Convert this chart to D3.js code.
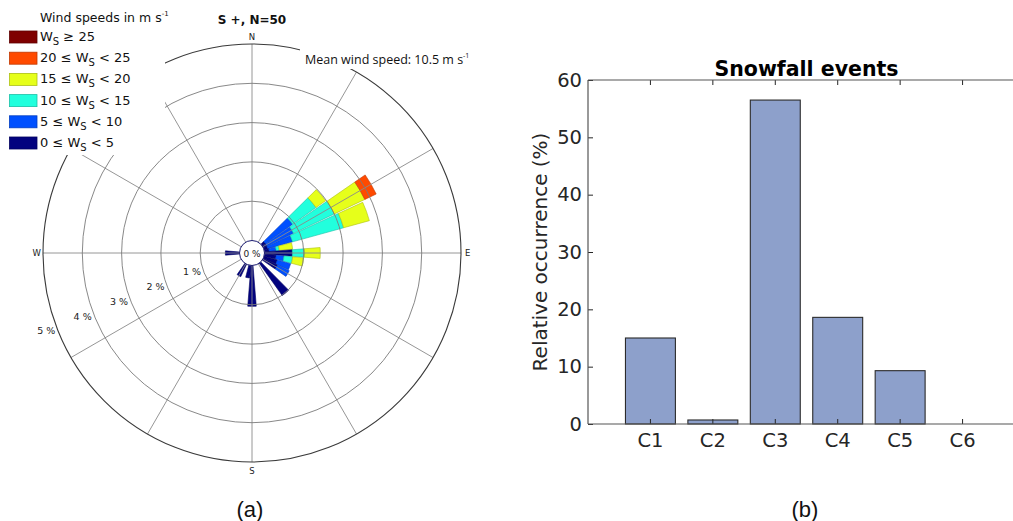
<!DOCTYPE html>
<html><head><meta charset="utf-8">
<script src="https://cdn.jsdelivr.net/npm/d3@7"></script>
<style>body{margin:0;background:#fff} svg{display:block}</style>
</head><body>
<svg id="chart" width="1013" height="521"></svg>
<script>
// ---------- Wind rose data (percent per direction bin, per speed class) ----------
const directions = [50, 60, 70, 80, 90, 100, 110, 120, 140, 180, 190, 210, 270];
const pct0to5   = [0.10, 0.10, 0.10, 0.12, 0.71, 0.30, 0.35, 0.40, 1.01, 1.04, 0.32, 0.35, 0.36];
const pct5to10  = [0.85, 0.75, 0.65, 0.18, 0.00, 0.20, 0.35, 0.33, 0, 0, 0, 0, 0];
const pct10to15 = [0.73, 1.15, 1.35, 0.08, 0.31, 0.22, 0, 0, 0, 0, 0, 0, 0];
const pct15to20 = [0.30, 0.86, 0.68, 0.34, 0.40, 0.28, 0, 0, 0, 0, 0, 0, 0];
const pct20to25 = [0, 0.32, 0, 0, 0, 0, 0, 0, 0, 0, 0, 0, 0];
const pct25plus = [0, 0, 0, 0, 0, 0, 0, 0, 0, 0, 0, 0, 0];
const speedColors = ["#02027f", "#0050ff", "#22ffdd", "#e6ff1a", "#ff4a00", "#7f0000"];
const legendPrefix = ["W", "20 \u2264 W", "15 \u2264 W", "10 \u2264 W", "5 \u2264 W", "0 \u2264 W"];
const legendSuffix = [" \u2265 25", " < 25", " < 20", " < 15", " < 10", " < 5"];
const legendColors = ["#7f0000", "#ff4a00", "#e6ff1a", "#22ffdd", "#0050ff", "#02027f"];
const ringLevels = [1, 2, 3, 4, 5];
const compassLabels = ["N", "E", "S", "W"];

// ---------- Bar chart data ----------
const categories = ["C1", "C2", "C3", "C4", "C5", "C6"];
const occurrence = [15.0, 0.7, 56.5, 18.6, 9.3, 0];
const yTicks = [0, 10, 20, 30, 40, 50, 60];

(function () {
const svg = d3.select("#chart");
const rad = Math.PI / 180;

// ================= Wind rose =================
const cx = 252, cy = 253;
const rose = svg.append("g").attr("transform", `translate(${cx},${cy})`);
const rScale = d3.scaleLinear().domain([0, 5]).range([12.5, 209]);
const halfW = 4.6;
const classes = [pct0to5, pct5to10, pct10to15, pct15to20, pct20to25, pct25plus];
const arc = d3.arc();

directions.forEach((d, i) => {
  let cum = 0;
  classes.forEach((cls, j) => {
    const v = cls[i];
    if (v <= 0) return;
    const r0 = rScale(cum);
    cum += v;
    const r1 = rScale(cum);
    rose.append("path")
      .attr("d", arc({innerRadius: r0, outerRadius: r1,
        startAngle: (d - halfW) * rad, endAngle: (d + halfW) * rad}))
      .attr("fill", speedColors[j])
      .attr("stroke", d3.color(speedColors[j]).darker(0.8))
      .attr("stroke-width", 0.6);
  });
});

// grid (on top)
const spokes = d3.range(0, 360, 30);
rose.selectAll("line.spoke").data(spokes).enter().append("line")
  .attr("x1", a => rScale(0) * Math.sin(a * rad))
  .attr("y1", a => -rScale(0) * Math.cos(a * rad))
  .attr("x2", a => rScale(5) * Math.sin(a * rad))
  .attr("y2", a => -rScale(5) * Math.cos(a * rad))
  .attr("stroke", "#8a8a8a").attr("stroke-width", 0.9);
rose.selectAll("circle.ring").data(ringLevels).enter().append("circle")
  .attr("r", p => rScale(p)).attr("fill", "none")
  .attr("stroke", p => p === 5 ? "#3a3a3a" : "#7a7a7a")
  .attr("stroke-width", p => p === 5 ? 1.1 : 0.9);

// center circle
rose.append("circle").attr("r", 12.5).attr("fill", "#fff")
  .attr("stroke", "#1a1a70").attr("stroke-width", 1);
rose.append("text").attr("x", 0).attr("y", 3.5).attr("text-anchor", "middle")
  .attr("font-family", "DejaVu Sans").attr("font-size", 9).attr("fill", "#222").text("0 %");

// ring labels
const labAng = 248 * rad;
rose.selectAll("text.ring").data(ringLevels).enter().append("text")
  .attr("x", p => rScale(p) * Math.sin(labAng) - 3)
  .attr("y", p => -rScale(p) * Math.cos(labAng) + 3)
  .attr("text-anchor", "end")
  .attr("font-family", "DejaVu Sans").attr("font-size", 9.5).attr("fill", "#222")
  .text(p => p + " %");

// compass labels
const compassPos = [
  {x: 0, y: -rScale(5) - 4, anchor: "middle"},
  {x: rScale(5) + 4, y: 3, anchor: "start"},
  {x: 0, y: rScale(5) + 12, anchor: "middle"},
  {x: -rScale(5) - 2, y: 3, anchor: "end"}
];
compassLabels.forEach((t, i) => {
  rose.append("text").attr("x", compassPos[i].x).attr("y", compassPos[i].y)
    .attr("text-anchor", compassPos[i].anchor)
    .attr("font-family", "DejaVu Sans").attr("font-size", 8.5).attr("fill", "#222").text(t);
});

// title
svg.append("text").attr("x", 252).attr("y", 24).attr("text-anchor", "middle")
  .attr("font-family", "DejaVu Sans").attr("font-weight", "bold").attr("font-size", 12)
  .attr("fill", "#111").text("S +, N=50");

// mean wind speed box
svg.append("rect").attr("x", 300).attr("y", 46).attr("width", 192).attr("height", 23).attr("fill", "#fff");
const mw = svg.append("text").attr("x", 305).attr("y", 64)
  .attr("font-family", "Open Sans").attr("font-size", 12.5).attr("fill", "#111");
mw.append("tspan").text("Mean wind speed: 10.5 m s");
mw.append("tspan").attr("font-size", 7).attr("dy", -6).text("-1");

// legend
svg.append("rect").attr("x", 0).attr("y", 0).attr("width", 165).attr("height", 155).attr("fill", "#fff");
const lt = svg.append("text").attr("x", 40).attr("y", 22)
  .attr("font-family", "DejaVu Sans").attr("font-size", 12.5).attr("fill", "#111");
lt.append("tspan").text("Wind speeds in m s");
lt.append("tspan").attr("font-size", 7).attr("dy", -6).text("-1");
legendPrefix.forEach((pre, i) => {
  const yc = 37 + 21.2 * i;
  svg.append("rect").attr("x", 9.5).attr("y", yc - 6).attr("width", 27.5).attr("height", 12)
    .attr("fill", legendColors[i]).attr("stroke", d3.color(legendColors[i]).darker(0.8))
    .attr("stroke-width", 0.8);
  const t = svg.append("text").attr("x", 40).attr("y", yc + 4)
    .attr("font-family", "DejaVu Sans").attr("font-size", 13).attr("fill", "#111");
  t.append("tspan").text(pre);
  t.append("tspan").attr("font-size", 10).attr("dy", 4).text("S");
  t.append("tspan").attr("dy", -4).text(legendSuffix[i]);
});

// (a)
svg.append("text").attr("x", 250).attr("y", 517).attr("text-anchor", "middle")
  .attr("font-family", "Liberation Sans").attr("font-size", 22).attr("fill", "#111").text("(a)");

// ================= Bar chart =================
const pLeft = 588, pRight = 1025, pTop = 80, pBottom = 424;
const step = (pRight - pLeft) / 7;
const x = d3.scaleBand().domain(categories)
  .range([pLeft + step * 0.5, pLeft + step * 6.5]).paddingInner(0.2).paddingOuter(0.1);
const y = d3.scaleLinear().domain([0, 60]).range([pBottom, pTop]);
const bc = svg.append("g");

bc.selectAll("rect.bar").data(categories.filter((c, i) => occurrence[i] > 0)).enter().append("rect")
  .attr("x", c => x(c))
  .attr("y", c => y(occurrence[categories.indexOf(c)]))
  .attr("width", x.bandwidth())
  .attr("height", c => y(0) - y(occurrence[categories.indexOf(c)]))
  .attr("fill", "#8da0cb").attr("stroke", "#2b2b2b").attr("stroke-width", 1.1);

const axColor = "#262626";
const xAxisB = bc.append("g").attr("transform", `translate(0,${pBottom})`)
  .call(d3.axisBottom(x).tickSizeInner(-5).tickSizeOuter(0).tickPadding(9));
const xAxisT = bc.append("g").attr("transform", `translate(0,${pTop})`)
  .call(d3.axisTop(x).tickSizeInner(-5).tickSizeOuter(0).tickFormat(""));
const yAxis = bc.append("g").attr("transform", `translate(${pLeft},0)`)
  .call(d3.axisLeft(y).tickValues(yTicks).tickSizeInner(-5).tickSizeOuter(0).tickPadding(6));
[xAxisB, xAxisT, yAxis].forEach(g => {
  g.select(".domain").remove();
  g.selectAll("line").attr("stroke", axColor);
  g.selectAll("text").attr("font-family", "DejaVu Sans").attr("font-size", 19.5).attr("fill", axColor);
});
// box lines
bc.append("line").attr("x1", pLeft).attr("x2", pRight).attr("y1", pBottom).attr("y2", pBottom).attr("stroke", "#555").attr("stroke-width", 1.2);
bc.append("line").attr("x1", pLeft).attr("x2", pRight).attr("y1", pTop).attr("y2", pTop).attr("stroke", "#555").attr("stroke-width", 1.2);
bc.append("line").attr("x1", pLeft).attr("x2", pLeft).attr("y1", pTop).attr("y2", pBottom).attr("stroke", "#555").attr("stroke-width", 1.2);

bc.append("text").attr("x", (pLeft + pRight) / 2).attr("y", 76).attr("text-anchor", "middle")
  .attr("font-family", "DejaVu Sans").attr("font-weight", "bold").attr("font-size", 20.5)
  .attr("fill", "#000").text("Snowfall events");
bc.append("text").attr("transform", `translate(547,${(pTop + pBottom) / 2}) rotate(-90)`)
  .attr("text-anchor", "middle").attr("font-family", "DejaVu Sans").attr("font-size", 20)
  .attr("fill", axColor).text("Relative occurrence (%)");

svg.append("text").attr("x", 805).attr("y", 517).attr("text-anchor", "middle")
  .attr("font-family", "Liberation Sans").attr("font-size", 22).attr("fill", "#111").text("(b)");
})();
</script>
</body></html>
